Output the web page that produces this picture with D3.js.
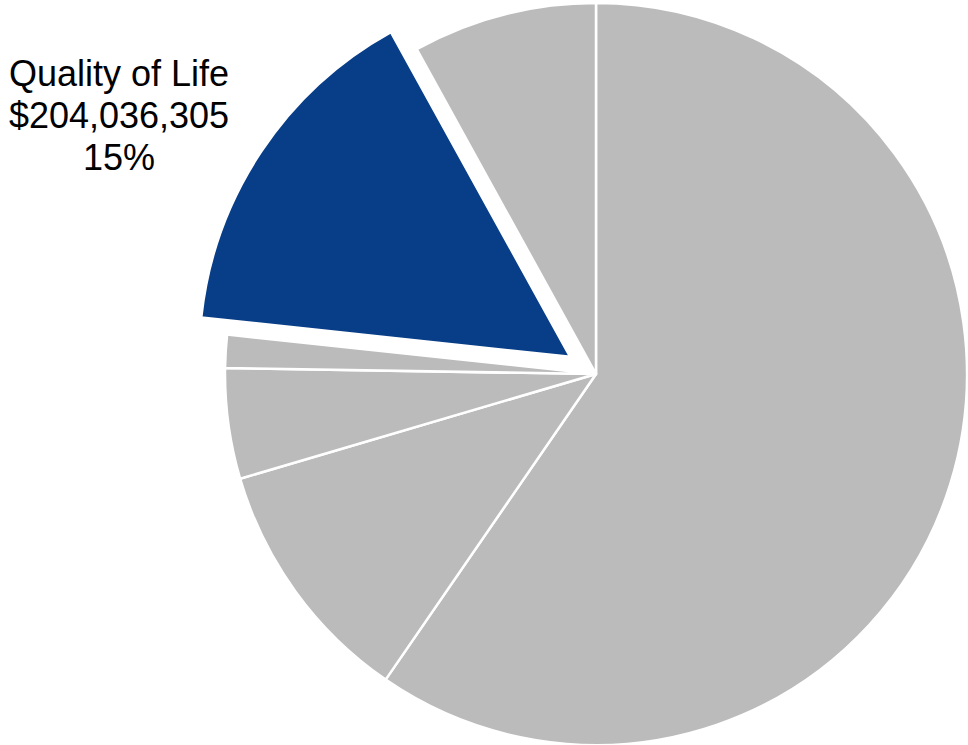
<!DOCTYPE html>
<html lang="en">
<head>
<meta charset="UTF-8">
<title>Budget pie</title>
<script src="https://d3js.org/d3.v7.min.js"></script>
<style>
    body { margin: 0; background: #fff; }
    svg { display: block; }
    .label { font-family: "Liberation Sans", Arial, sans-serif; font-size: 36px; fill: #000; }
</style>
</head>
<body>
<script>
// slices in clockwise order from 12 o'clock
const categories = ["Other A", "Other B", "Other C", "Other D", "Quality of Life", "Other E"];
const values = [795800000, 144900000, 64200000, 19200000, 204036305, 107200000];
const highlight = "Quality of Life";
const labelLines = ["Quality of Life", "$204,036,305", "15%"];

const width = 968, height = 745;
const cx = 596, cy = 374, radius = 371;
const explode = 31;

const svg = d3.select("body").append("svg")
    .attr("width", width)
    .attr("height", height);

const g = svg.append("g").attr("transform", `translate(${cx},${cy})`);

const data = categories.map((c, i) => ({ name: c, value: values[i] }));

const pie = d3.pie().sort(null).value(d => d.value);
const arc = d3.arc().innerRadius(0).outerRadius(radius);

const arcs = pie(data);

g.selectAll("path")
    .data(arcs)
    .enter()
    .append("path")
    .attr("d", arc)
    .attr("fill", d => d.data.name === highlight ? "#083e88" : "#bbbbbb")
    .attr("stroke", "#fff")
    .attr("stroke-width", 2.5)
    .attr("stroke-linejoin", "round")
    .attr("transform", d => {
        if (d.data.name !== highlight) return null;
        const mid = (d.startAngle + d.endAngle) / 2;
        return `translate(${Math.sin(mid) * explode},${-Math.cos(mid) * explode})`;
    });

const label = svg.append("text")
    .attr("class", "label")
    .attr("text-anchor", "middle");

label.selectAll("tspan")
    .data(labelLines)
    .enter()
    .append("tspan")
    .attr("x", 119)
    .attr("y", (d, i) => 86 + i * 42)
    .text(d => d);
</script>
</body>
</html>
